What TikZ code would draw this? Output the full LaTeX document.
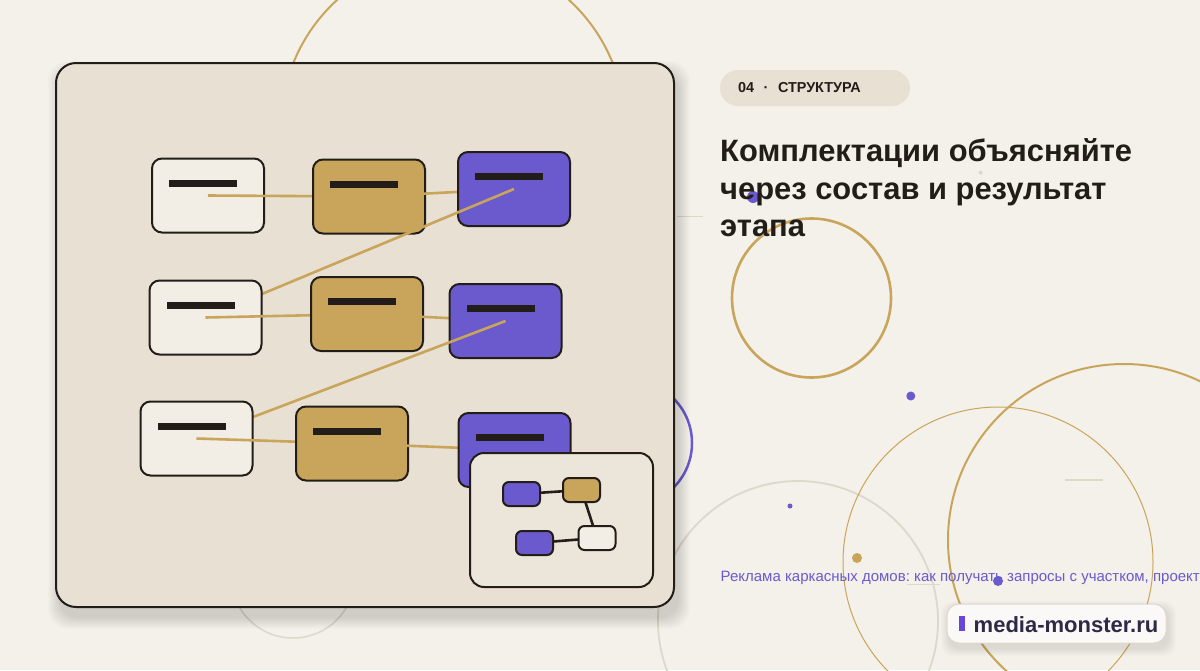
\documentclass[tikz,border=0pt]{standalone}
\usepackage{fontspec}
\setmainfont{Liberation Sans}
\frenchspacing
\definecolor{bg}{HTML}{F4F1EA}
\definecolor{panelc}{HTML}{E8E0D2}
\definecolor{insetc}{HTML}{ECE5D9}
\definecolor{lightc}{HTML}{F2EDE5}
\definecolor{goldc}{HTML}{C8A55B}
\definecolor{purc}{HTML}{6A5ACD}
\definecolor{ink}{HTML}{221D18}
\definecolor{faint}{HTML}{DDD7CC}
\definecolor{pillc}{HTML}{E8E0D3}
\definecolor{badgetext}{HTML}{2E2A45}
\definecolor{badgebar}{HTML}{6A45D8}
\tikzset{
  card/.style={rounded corners=10pt, draw=ink, line width=2pt, minimum width=112pt, minimum height=74pt, inner sep=0pt},
  lbox/.style={card, fill=lightc},
  gbox/.style={card, fill=goldc},
  pbox/.style={card, fill=purc},
  barst/.style={fill=ink, minimum width=68pt, minimum height=7pt, inner sep=0pt},
  flow/.style={draw=goldc, line width=2.6pt},
  mini/.style={rounded corners=6pt, draw=ink, line width=2pt, minimum width=37pt, minimum height=24pt, inner sep=0pt},
  minilink/.style={draw=ink, line width=2.6pt},
  ring/.style={draw=goldc},
}
\newcommand{\cardbar}[1]{\node[barst] (#1bar) at ([xshift=-5pt,yshift=-25.5pt]#1.north) {};}
\begin{document}
\begin{tikzpicture}[x=1pt,y=-1pt]
\useasboundingbox (0,0) rectangle (1200,670);
\clip (0,0) rectangle (1200,670);
\fill[bg] (0,0) rectangle (1200,670);

% background decoration
\draw[ring, line width=2pt] (453,127) circle[radius=172pt];
\draw[purc, line width=2.5pt] (629,443) circle[radius=63pt];
\draw[faint, line width=1.5pt] (293,576) circle[radius=62pt];
\draw[faint, line width=1.8pt] (798,621) circle[radius=140pt];
\draw[ring, line width=1pt] (998,562) circle[radius=155pt];
\draw[ring, line width=2pt] (1124,540) circle[radius=176pt];
\draw[ring, line width=2.6pt] (811.5,298) circle[radius=79.5pt];
\fill[purc] (753,197) circle[radius=6pt];
\fill[purc] (910.8,396) circle[radius=4.5pt];
\fill[purc] (790,506) circle[radius=2.5pt];
\fill[goldc] (857,558) circle[radius=5pt];
\fill[purc] (998,581) circle[radius=5pt];
\fill[faint] (980.7,172.7) circle[radius=2pt];
\draw[faint, line width=1pt] (677,216.7) -- (703,216.7);
\draw[faint, line width=1.5pt] (1065,480) -- (1103,480);
\draw[faint, line width=1pt] (907,584) -- (940,584);

% panel shadow
\foreach \i in {1,...,12}
  \fill[black, opacity=0.012, rounded corners=20pt] (56-\i+4,63-\i+10) rectangle (674+\i+4,607+\i+10);
\node[rounded corners=20pt, draw=ink, line width=2pt, fill=panelc, minimum width=618pt, minimum height=544pt, inner sep=0pt] (panel) at (365,335) {};

% flow of cards
\node[lbox] (l1) at (208,195.5) {}; \cardbar{l1}
\draw[flow] (l1.center) -- (369,196.5);
\node[gbox] (g1) at (369,196.5) {}; \cardbar{g1}
\draw[flow] (g1.center) -- (514,189);
\node[pbox] (p1) at (514,189) {}; \cardbar{p1}
\draw[flow] (p1.center) -- (205.5,317.5);
\node[lbox] (l2) at (205.5,317.5) {}; \cardbar{l2}
\draw[flow] (l2.center) -- (367,314);
\node[gbox] (g2) at (367,314) {}; \cardbar{g2}
\draw[flow] (g2.center) -- (505.5,321);
\node[pbox] (p2) at (505.5,321) {}; \cardbar{p2}
\draw[flow] (p2.center) -- (196.5,438.5);
\node[lbox] (l3) at (196.5,438.5) {}; \cardbar{l3}
\draw[flow] (l3.center) -- (352,443.5);
\node[gbox] (g3) at (352,443.5) {}; \cardbar{g3}
\draw[flow] (g3.center) -- (514.5,450);
\node[pbox] (p3) at (514.5,450) {}; \cardbar{p3}

% inset
\node[rounded corners=14pt, draw=ink, line width=2pt, fill=insetc, minimum width=183pt, minimum height=134pt, inner sep=0pt] (inset) at (561.5,520) {};
\coordinate (ma) at (521.5,494);
\coordinate (mb) at (581.5,490);
\coordinate (mc) at (597,538);
\coordinate (md) at (534.5,543);
\draw[minilink] (ma) -- (mb);
\draw[minilink] (mb) -- (mc);
\draw[minilink] (md) -- (mc);
\node[mini, fill=purc] (a) at (ma) {};
\node[mini, fill=goldc] (b) at (mb) {};
\node[mini, fill=lightc] (c) at (mc) {};
\node[mini, fill=purc] (d) at (md) {};

% tag pill
\node[rounded corners=18pt, fill=pillc, minimum width=190pt, minimum height=36pt, inner sep=0pt] (tag) at (815,88) {};
\node[anchor=base west, inner sep=0pt, text=ink, font=\fontsize{14.4}{16}\selectfont\bfseries] (tagtext) at (738,92.5) {04\hspace{9.5pt}·\hspace{9.5pt}СТРУКТУРА};

% title
\node[anchor=base west, inner sep=0pt, text=ink, font=\fontsize{30.9}{36}\selectfont\bfseries] (t1) at (720,161.7) {Комплектации объясняйте};
\node[anchor=base west, inner sep=0pt, text=ink, font=\fontsize{30.9}{36}\selectfont\bfseries] (t2) at (720,199.3) {через состав и результат};
\node[anchor=base west, inner sep=0pt, text=ink, font=\fontsize{30.9}{36}\selectfont\bfseries] (t3) at (720,236.7) {этапа};

% subtitle
\node[anchor=base west, inner sep=0pt, text=purc, font=\fontsize{15}{17}\selectfont] (sub) at (720.5,581.7) {Реклама каркасных домов: как получать запросы с участком, проект};

% badge
\foreach \i in {1,...,8}
  \fill[black, opacity=0.012, rounded corners=12pt] (947-\i+2,604-\i+5) rectangle (1166+\i+2,643+\i+5);
\node[rounded corners=12pt, draw=faint, line width=1pt, fill=white!60!bg, minimum width=219pt, minimum height=39pt, inner sep=0pt] (badge) at (1056.5,623.5) {};
\fill[badgebar] (959,616) rectangle (965,631);
\node[anchor=base west, inner sep=0pt, text=badgetext, font=\fontsize{22}{26}\selectfont\bfseries] (site) at (973.5,632.7) {media-monster.ru};
\end{tikzpicture}
\end{document}
